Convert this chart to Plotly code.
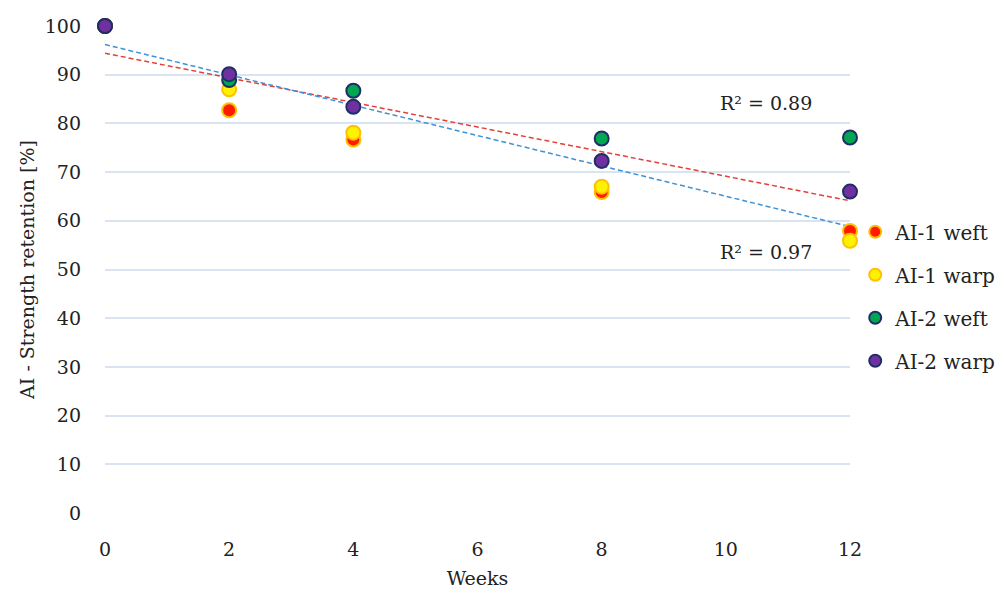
import plotly.graph_objects as go

weeks = [0, 2, 4, 8, 12]
ai1_weft = [100, 82.7, 76.7, 65.9, 57.9]
ai1_warp = [100, 87.0, 78.1, 67.0, 55.9]
ai2_weft = [100, 88.9, 86.7, 76.9, 77.1]
ai2_warp = [100, 90.1, 83.4, 72.3, 66.0]

trend_x = [0, 12]
trend_red = [94.4, 64.1]   # R² = 0.89
trend_blue = [96.2, 58.8]  # R² = 0.97

x_ticks = [0, 2, 4, 6, 8, 10, 12]
y_ticks = [0, 10, 20, 30, 40, 50, 60, 70, 80, 90, 100]

FONT = "DejaVu Serif"

fig = go.Figure()

fig.add_trace(go.Scatter(x=trend_x, y=trend_red, mode="lines", showlegend=False,
                         line=dict(color="#E0423A", width=1.5, dash="5px,3px"),
                         hoverinfo="skip", cliponaxis=False))
fig.add_trace(go.Scatter(x=trend_x, y=trend_blue, mode="lines", showlegend=False,
                         line=dict(color="#3D93D6", width=1.5, dash="5px,3px"),
                         hoverinfo="skip", cliponaxis=False))

series = [
    ("AI-1 weft", ai1_weft, "#FF1A00", "#FFC000"),
    ("AI-1 warp", ai1_warp, "#FFF200", "#FFC000"),
    ("AI-2 weft", ai2_weft, "#00A651", "#1F2F66"),
    ("AI-2 warp", ai2_warp, "#7030A0", "#1F2F66"),
]
for i, (name, vals, fill, edge) in enumerate(series):
    fig.add_trace(go.Scatter(
        x=weeks, y=vals, mode="markers", name=name, legendgroup=f"g{i}",
        marker=dict(size=14, color=fill, line=dict(color=edge, width=2)),
        cliponaxis=False))

fig.add_annotation(x=10.65, y=84.2, text="R² = 0.89", showarrow=False,
                   font=dict(family=FONT, size=19, color="#222"))
fig.add_annotation(x=10.65, y=53.6, text="R² = 0.97", showarrow=False,
                   font=dict(family=FONT, size=19, color="#222"))

fig.update_layout(
    width=1005, height=593,
    margin=dict(l=97, r=163, t=18, b=88),
    paper_bgcolor="white", plot_bgcolor="white",
    font=dict(family=FONT, size=19, color="#222"),
    legend=dict(xref="container", yref="container",
                x=0.843, xanchor="left", y=0.514, yanchor="middle",
                font=dict(family=FONT, size=20, color="#222"),
                tracegroupgap=14, itemsizing="constant",
                bgcolor="rgba(0,0,0,0)"),
    xaxis=dict(range=[0, 12], tickvals=x_ticks, ticktext=[str(v) for v in x_ticks],
               showgrid=False, zeroline=False, showline=False,
               ticks="", ticklabelstandoff=23,
               title=dict(text="Weeks", font=dict(family=FONT, size=19), standoff=12),
               automargin=False),
    yaxis=dict(range=[0, 100], tickvals=y_ticks, ticktext=[str(v) for v in y_ticks],
               showgrid=True, gridcolor="#D9E4F3", gridwidth=1.5,
               zeroline=False, showline=False, ticks="", ticklabelstandoff=23,
               title=dict(text="AI - Strength retention [%]", font=dict(family=FONT, size=19), standoff=5),
               automargin=False),
)

fig.write_html("out.html")
